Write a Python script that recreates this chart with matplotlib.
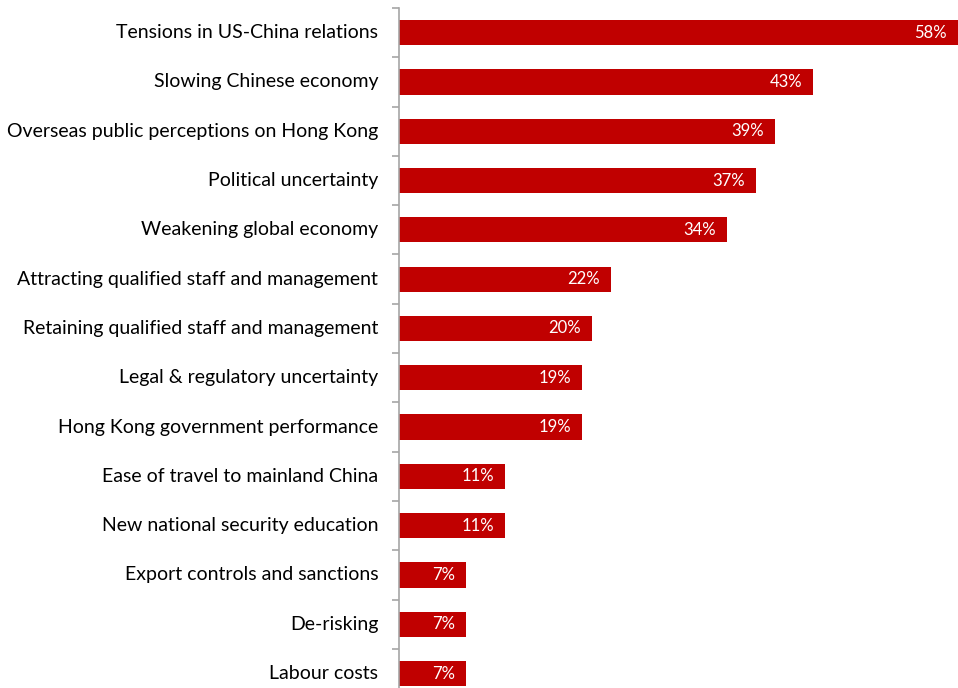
import matplotlib
matplotlib.use("Agg")
import matplotlib.pyplot as plt
import numpy as np

plt.rcParams['font.family'] = ['Lato', 'DejaVu Sans']

categories = [
    "Tensions in US-China relations",
    "Slowing Chinese economy",
    "Overseas public perceptions on Hong Kong",
    "Political uncertainty",
    "Weakening global economy",
    "Attracting qualified staff and management",
    "Retaining qualified staff and management",
    "Legal & regulatory uncertainty",
    "Hong Kong government performance",
    "Ease of travel to mainland China",
    "New national security education",
    "Export controls and sanctions",
    "De-risking",
    "Labour costs",
]
values = [58, 43, 39, 37, 34, 22, 20, 19, 19, 11, 11, 7, 7, 7]
value_labels = ["58%", "43%", "39%", "37%", "34%", "22%", "20%",
                "19%", "19%", "11%", "11%", "7%", "7%", "7%"]

W, H = 958, 688
fig = plt.figure(figsize=(W / 100, H / 100), dpi=100)
left = 399 / W
top_px, pitch = 8, 49.3
bottom_px = top_px + pitch * len(categories)
ax = fig.add_axes([left, (H - bottom_px) / H, 1 - left, (bottom_px - top_px) / H])

bar_color = "#C00000"
y = np.arange(len(categories))
ax.barh(y, values, height=0.51, color=bar_color, zorder=2)

ax.set_ylim(len(categories) - 0.5, -0.5)
ax.set_xlim(0, 58)

for yi, v, lab in zip(y, values, value_labels):
    ax.annotate(lab, xy=(v, yi), xytext=(-8, 0), textcoords="offset points",
                ha="right", va="center", color="white", fontsize=12)

# category names, right-aligned a short gap left of the spine
for yi, c in zip(y, categories):
    ax.annotate(c, xy=(0, yi), xycoords=("axes fraction", "data"),
                xytext=(-15, 0), textcoords="offset points",
                ha="right", va="center", color="black", fontsize=14)

ax.set_yticks(np.arange(-0.5, len(categories), 1.0))
ax.set_yticklabels([])
ax.tick_params(axis="y", length=5, width=1.2, color="#A6A6A6", direction="out")
ax.set_xticks([])
for s in ("top", "right", "bottom"):
    ax.spines[s].set_visible(False)
ax.spines["left"].set_color("#A6A6A6")
ax.spines["left"].set_linewidth(1.2)
ax.set_facecolor("none")

fig.savefig("out.png", dpi=100, facecolor="white")
